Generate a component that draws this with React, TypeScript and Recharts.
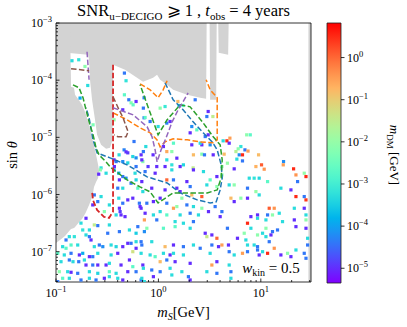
import { Area, ComposedChart, ReferenceArea, Scatter, XAxis, YAxis } from 'recharts'

const SERIF = "'Liberation Serif', 'DejaVu Serif', serif"

// axis limits (log10)
const LOG_MS_MIN = -1
const LOG_MS_MAX = 1.49
const LOG_SIN_MIN = -7.53
const LOG_SIN_MAX = -3
const LOG_MDM_MIN = -5.35
const LOG_MDM_MAX = 0.82

const cbMajor = [-5, -4, -3, -2, -1, 0]

// excluded (gray) region: lower edge of the top band, [log mS, log sin]
const grayTop = [
	[-1.0, -3.503], [-0.687, -3.555], [-0.677, -3.643], [-0.668, -3.993], [-0.648, -4.343],
	[-0.619, -4.693], [-0.599, -4.956], [-0.56, -5.131], [-0.511, -5.201], [-0.472, -5.184],
	[-0.448, -5.044], [-0.443, -3.73], [-0.326, -3.818], [-0.15, -4.028], [-0.052, -3.958],
	[-0.013, -3.905], [0.017, -3.993], [0.085, -4.081], [0.144, -4.168], [0.281, -4.256],
	[0.408, -4.308], [0.466, -4.326], [0.471, -3], [0.5, -3], [0.505, -4.343], [0.564, -4.343],
	[0.569, -3], [0.584, -3], [0.589, -3.52], [0.681, -3.555], [0.686, -3], [1.49, -3],
]
// left bulge: [log mS, low, high]
const grayLeft = [
	[-1.0, -6.848, -3], [-0.961, -6.795, -3], [-0.912, -6.725, -3], [-0.863, -6.62, -3],
	[-0.853, -6.602, -4.116], [-0.824, -6.584, -4.133], [-0.814, -6.567, -4.256],
	[-0.765, -6.462, -4.378], [-0.746, -6.427, -4.431], [-0.717, -6.339, -4.553],
	[-0.707, -6.304, -4.606], [-0.677, -6.182, -4.781], [-0.658, -6.094, -4.921],
	[-0.643, -6.024, -5.044], [-0.629, -5.867, -5.149], [-0.609, -5.779, -5.306],
	[-0.589, -5.709, -5.481], [-0.58, -5.604, -5.586],
]
const grayRight = [
	[1.465, -7.53, -3], [1.49, -7.53, -3],
]

// dashed contours [log mS, log sin]
const contourBlue = [
	[0.065, -4.046], [0.144, -4.343], [0.241, -4.518], [0.339, -4.729], [0.437, -4.921],
	[0.525, -5.079], [0.574, -5.219], [0.613, -5.481], [0.623, -5.709], [0.603, -5.919],
	[0.564, -6.129], [0.505, -6.147], [0.378, -6.094], [0.212, -5.972], [0.085, -5.797],
	[-0.11, -5.691], [-0.306, -5.481], [-0.472, -5.359], [-0.599, -5.271], [-0.638, -5.044],
	[-0.677, -4.658], [-0.707, -4.483],
]
const contourOrangeA = [
	[-0.179, -4.063], [-0.081, -4.168], [-0.003, -4.308], [0.046, -4.168], [0.085, -4.011],
]
const contourOrangeB = [
	[-0.443, -4.571], [-0.306, -4.693], [-0.179, -4.834], [-0.081, -4.921], [-0.013, -5.044],
	[0.017, -5.166], [0.065, -5.079], [0.144, -5.026], [0.281, -5.044], [0.408, -5.079],
	[0.535, -5.096], [0.574, -5.044], [0.574, -4.308], [0.505, -4.168], [0.466, -3.993],
]
const contourGreen = [
	[-0.834, -4.081], [-0.775, -4.133], [-0.736, -4.308], [-0.707, -4.518], [-0.677, -4.729],
	[-0.638, -4.956], [-0.609, -5.184], [-0.58, -5.306], [-0.511, -5.429], [-0.462, -5.534],
	[-0.306, -5.744], [-0.179, -5.867], [-0.081, -5.954], [-0.003, -6.147], [0.085, -6.042],
	[0.144, -5.972], [0.476, -5.972], [0.574, -5.919], [0.613, -5.709], [0.623, -5.394],
	[0.603, -5.131], [0.535, -4.991], [0.437, -4.746], [0.31, -4.466], [0.212, -4.431],
	[0.085, -4.693], [-0.003, -4.956], [-0.091, -4.518], [-0.179, -4.081],
]
const contourRed = [
	[-0.443, -3.73], [-0.443, -6.3], [-0.482, -6.41], [-0.531, -6.39], [-0.599, -6.27],
	[-0.638, -6.1], [-0.648, -5.95],
]
const contourPurpleA = [[-0.697, -3.503], [-0.677, -3.993]]
const contourPurpleB = [
	[-0.443, -4.483], [-0.247, -4.606], [-0.11, -4.816], [-0.062, -4.991], [-0.032, -5.219],
	[-0.013, -5.429], [0.026, -5.219], [0.075, -5.009], [0.134, -4.729], [0.193, -4.518],
	[0.241, -4.378], [0.29, -4.221],
]
const contourBrownA = [[-0.853, -3.8], [-0.677, -3.835]]
const contourBrownB = [
	[-0.443, -4.291], [-0.384, -4.518], [-0.345, -4.658], [-0.296, -4.904], [-0.316, -4.991],
	[-0.394, -4.991], [-0.433, -4.956],
]

// scan points [log mS, log sin, log mDM]
const pointsUpper = [
	[-0.844, -3.66, -3.3], [-0.778, -3.643, -3.2], [-0.717, -3.76, -2.1], [-0.69, -4.093, -3.3],
	[-0.765, -4.313, -3.9], [-0.332, -3.876, -4.4], [-0.316, -4.01, -3.2], [-0.332, -4.256, -2.7],
	[-0.289, -4.343, -4.4], [-0.218, -4.373, -5.0], [-0.267, -4.396, -2.2], [-0.247, -4.431, -2.6],
	[-0.14, -4.308, -4.3], [-0.348, -4.518, -5.0], [-0.638, -4.781, -2.3], [-0.433, -4.693, -2.0],
	[-0.14, -4.658, -4.4], [-0.238, -5.073, -4.4], [-0.335, -5.219, -4.3], [-0.316, -5.254, -5.0],
	[-0.299, -5.271, -4.9], [-0.384, -5.306, -3.3], [-0.25, -5.336, -3.4], [-0.218, -5.359, -4.2],
	[-0.169, -5.306, -5.0], [-0.433, -5.394, -5.0], [-0.413, -5.424, -4.4], [-0.348, -5.424, -4.2],
	[-0.299, -5.447, -3.4], [-0.218, -5.511, -4.4], [-0.152, -5.424, -2.2], [-0.56, -5.534, -3.2],
	[-0.433, -5.569, -4.2], [-0.147, -4.489, -4.4], [0.017, -4.489, -2.1], [0.065, -4.461, -3.1],
	[-0.13, -4.653, -2.7], [-0.081, -4.723, -4.4], [-0.003, -4.811, -3.3], [0.082, -4.751, -4.3],
	[0.114, -4.723, -5.0], [0.19, -4.373, -0.8], [0.359, -4.343, -4.4], [0.202, -4.443, -3.4],
	[0.241, -4.443, -2.8], [0.486, -4.548, -5.0], [0.473, -4.636, -4.4], [0.532, -4.636, -1.5],
	[0.326, -4.811, -4.2], [0.375, -4.869, -2.7], [0.31, -4.921, -5.0], [0.486, -4.956, -5.0],
	[0.457, -4.986, -4.4], [0.424, -5.131, -5.0], [-0.123, -5.161, -3.3], [0.049, -5.161, -5.0],
	[0.147, -5.102, -2.7], [0.326, -5.131, -5.0], [0.408, -5.102, -3.3], [0.505, -5.131, -4.2],
	[0.632, -5.061, -3.3], [0.669, -5.061, 0.5], [-0.147, -5.249, -4.4], [-0.052, -5.306, -5.0],
	[0.082, -5.249, -0.6], [0.131, -5.249, -2.1], [0.18, -5.364, -5.0], [0.342, -5.306, -0.8],
	[0.424, -5.294, -2.2], [0.45, -5.306, -4.4], [0.535, -5.306, -5.0], [-0.162, -5.394, -5.0],
	[-0.101, -5.511, -4.9], [-0.016, -5.511, -5.0], [0.082, -5.394, -3.3], [0.131, -5.481, -3.2],
	[0.244, -5.481, -3.4], [0.339, -5.534, -1.5], [0.62, -5.511, -2.1], [0.674, -5.452, -2.0],
	[0.862, -4.956, -2.1], [0.897, -4.956, -2.7], [0.698, -5.014, -0.5], [0.691, -5.102, -5.0],
	[0.805, -5.161, -3.2], [0.779, -5.201, -2.1], [0.757, -5.249, -1.6], [0.845, -5.219, -4.4],
	[0.875, -5.24, -0.5], [0.789, -5.306, -4.2], [0.821, -5.306, 0.5], [0.642, -5.294, -0.8],
	[0.978, -5.306, -0.8], [0.766, -5.381, -3.3], [0.821, -5.412, -4.4], [1.007, -5.481, 0.1],
	[0.952, -5.511, -0.7], [1.222, -5.424, -4.2], [1.219, -5.481, -0.5], [1.32, -5.551, 0.5],
	[0.74, -5.551, -5.0], [1.033, -5.557, -0.4],
]
const pointsLowLeft = [
	[-0.567, -5.569, -2.1], [-0.583, -5.644, -5.0], [-0.511, -5.627, -3.3], [-0.43, -5.511, -5.0],
	[-0.387, -5.627, -3.9], [-0.348, -5.686, -4.4], [-0.381, -5.744, -5.0], [-0.397, -5.889, -4.4],
	[-0.316, -5.714, -4.2], [-0.228, -5.627, -3.3], [-0.218, -5.744, -3.4], [-0.267, -5.802, -4.4],
	[-0.348, -5.889, -3.3], [-0.201, -5.889, -2.7], [-0.152, -5.949, -3.3], [-0.626, -6.007, -4.4],
	[-0.56, -6.036, -3.3], [-0.641, -6.182, -5.0], [-0.592, -6.124, -4.4], [-0.479, -6.182, -3.3],
	[-0.528, -6.299, -2.2], [-0.387, -6.064, -3.3], [-0.299, -6.094, -5.0], [-0.25, -6.064, -5.0],
	[-0.348, -6.152, -4.4], [-0.186, -6.152, -4.4], [-0.381, -6.24, -5.0], [-0.326, -6.387, -5.0],
	[-0.365, -6.357, -5.0], [-0.374, -6.299, -4.9], [-0.413, -6.357, -3.3], [-0.169, -6.24, -5.0],
	[-0.137, -6.444, -0.5], [-0.756, -6.5, -3.3], [-0.707, -6.415, -5.0], [-0.626, -6.532, -1.5],
	[-0.592, -6.544, -4.4], [-0.674, -6.62, -3.3], [-0.739, -6.62, -3.2], [-0.479, -6.532, -3.3],
	[-0.381, -6.649, -4.4], [-0.495, -6.677, -4.4], [-0.283, -6.62, -3.3], [-0.201, -6.562, -4.4],
	[-0.218, -6.677, -3.5], [-0.137, -6.649, -4.2], [-0.87, -6.737, -3.3], [-0.821, -6.737, -3.2],
	[-0.902, -6.795, -4.4], [-0.853, -6.883, -2.8], [-0.707, -6.707, -3.3], [-0.674, -6.737, -4.4],
	[-0.658, -6.795, -5.0], [-0.935, -6.912, -3.3], [-0.902, -6.94, -2.7], [-0.788, -6.883, -3.3],
	[-0.626, -6.912, -3.3], [-0.577, -6.883, -4.4], [-0.543, -6.912, -4.2], [-0.462, -6.883, -3.3],
	[-0.413, -6.912, -3.4], [-0.348, -6.912, -5.0], [-0.299, -6.853, -5.0], [-0.267, -6.853, -4.4],
	[-0.218, -6.825, -3.3], [-0.169, -6.825, -4.4], [-0.983, -7.028, -2.7], [-0.919, -7.057, -3.3],
	[-0.853, -7.028, -4.4], [-0.772, -7.057, -5.0], [-0.739, -7.028, -3.9], [-0.674, -7.087, -5.0],
	[-0.641, -7.087, -4.4], [-0.592, -7.028, -3.3], [-0.462, -7.057, -3.3], [-0.397, -7.028, -5.0],
	[-0.25, -7.0, -1.3], [-0.218, -6.94, -5.0], [-0.283, -7.145, -5.0], [-0.169, -7.028, -3.3],
	[-0.951, -7.175, -3.3], [-0.87, -7.145, -4.4], [-0.834, -7.175, -3.3], [-0.778, -7.175, -4.4],
	[-0.723, -7.145, -3.3], [-0.707, -7.233, -5.0], [-0.641, -7.233, -4.4], [-0.592, -7.233, -5.0],
	[-0.511, -7.233, -5.0], [-0.479, -7.203, -3.3], [-0.365, -7.233, -5.0], [-0.25, -7.262, -2.7],
	[-0.152, -7.233, -5.0], [-0.968, -7.35, -2.1], [-0.886, -7.35, -3.3], [-0.853, -7.36, -5.0],
	[-0.788, -7.378, -4.4], [-0.674, -7.35, -3.3], [-0.592, -7.378, -3.4], [-0.479, -7.35, -2.7],
	[-0.413, -7.378, -3.3], [-0.299, -7.35, -5.0], [-0.218, -7.35, -4.4], [-0.935, -7.465, -2.7],
	[-0.87, -7.465, -3.3], [-0.756, -7.495, -4.4], [-0.674, -7.465, -3.3], [-0.609, -7.495, -4.4],
	[-0.528, -7.465, -5.0], [-0.479, -7.437, -3.3], [-0.397, -7.465, -3.3], [-0.348, -7.495, -5.0],
	[-0.169, -7.495, -4.4], [-0.137, -7.524, -3.3], [-0.983, -7.524, -4.4],
]
const pointsLowMid = [
	[-0.13, -5.599, -4.4], [0.065, -5.511, -5.0], [0.131, -5.569, -3.3], [0.212, -5.511, -5.0],
	[0.342, -5.569, -5.0], [0.44, -5.599, -3.3], [0.505, -5.744, -2.7], [0.571, -5.686, -5.0],
	[0.62, -5.657, -2.0], [-0.162, -5.774, -5.0], [-0.032, -5.627, -5.0], [0.082, -5.744, 0.0],
	[0.147, -5.744, -4.4], [0.278, -5.774, -5.0], [0.31, -5.861, -4.4], [0.18, -5.889, -5.0],
	[0.212, -5.949, -5.0], [0.065, -5.919, -5.0], [-0.065, -5.889, -5.0], [0.473, -5.832, -3.3],
	[0.571, -5.861, -2.1], [0.424, -6.036, 0.1], [0.326, -6.007, -0.8], [0.229, -6.064, -2.1],
	[0.017, -6.064, -5.0], [-0.049, -6.124, -5.0], [-0.113, -6.152, -4.4], [-0.179, -6.211, -5.0],
	[0.082, -6.152, -4.4], [0.147, -6.24, -0.5], [0.18, -6.211, -2.0], [0.278, -6.182, -4.4],
	[0.342, -6.211, -3.3], [0.424, -6.24, -2.1], [0.489, -6.299, -5.0], [0.554, -6.211, -4.4],
	[0.62, -6.299, -4.4], [-0.13, -6.327, -5.0], [-0.049, -6.357, -3.3], [0.017, -6.299, -3.3],
	[0.082, -6.357, -2.7], [0.212, -6.357, -3.3], [0.31, -6.327, -4.4], [0.391, -6.357, -3.3],
	[0.603, -6.387, -5.0], [-0.016, -6.444, -4.4], [0.163, -6.474, -3.3], [0.244, -6.502, -3.3],
	[0.342, -6.474, -4.4], [0.163, -6.562, -2.7], [0.31, -6.59, -3.3], [-0.113, -6.59, -2.2],
	[0.049, -6.59, -2.7], [0.457, -6.677, -5.0], [0.522, -6.707, -5.0], [0.473, -6.737, -1.4],
	[0.571, -6.765, 0.0], [0.62, -6.883, -0.5], [0.587, -6.912, -5.0], [0.522, -6.883, -4.4],
	[0.684, -6.883, -5.0], [0.065, -6.912, -0.8], [-0.162, -6.883, -4.4], [-0.065, -6.825, -3.3],
	[0.147, -6.883, -5.0], [0.244, -6.912, -4.4], [0.342, -6.883, -3.3], [0.408, -6.94, -4.4],
	[-0.081, -7.057, -3.3], [-0.032, -7.087, -2.7], [0.049, -7.028, -3.3], [0.114, -7.057, -5.0],
	[0.147, -7.028, -3.3], [0.244, -7.057, -3.3], [0.505, -7.028, -3.3], [0.017, -7.175, -0.8],
	[0.082, -7.145, -4.4], [0.163, -7.175, -5.0], [0.31, -7.203, -5.0], [0.522, -7.233, -0.5],
	[0.571, -7.175, -5.0], [-0.147, -7.29, -3.3], [-0.065, -7.32, -4.4], [0.017, -7.35, -4.4],
	[0.114, -7.29, -3.3], [0.229, -7.35, -3.3], [0.473, -7.35, -3.3], [0.571, -7.378, -4.4],
	[-0.049, -7.437, -5.0], [0.131, -7.407, -3.3], [0.293, -7.437, -4.4], [0.31, -7.495, -5.0],
	[-0.162, -7.465, -3.3],
]
const pointsLowRight = [
	[1.343, -5.657, -0.4], [1.424, -5.627, -2.0], [1.441, -5.686, 0.5], [0.887, -5.714, -3.3],
	[0.935, -5.714, -3.2], [0.984, -5.714, -3.4], [1.066, -5.774, -2.7], [1.359, -5.774, -4.4],
	[0.691, -5.832, -3.3], [0.74, -5.832, -2.1], [0.87, -5.889, -4.4], [0.952, -5.949, -2.0],
	[0.984, -6.007, -3.3], [0.805, -6.064, -2.1], [0.708, -6.064, -0.8], [0.74, -6.124, -5.0],
	[0.87, -6.064, -5.0], [1.196, -5.889, -3.3], [1.294, -5.919, -5.0], [1.343, -6.036, 0.5],
	[1.424, -6.036, -4.4], [1.441, -6.094, 0.4], [1.082, -6.24, 0.1], [1.131, -6.24, -0.4],
	[1.18, -6.327, -3.3], [1.114, -6.357, -2.1], [1.066, -6.357, -4.4], [1.424, -6.24, -5.0],
	[1.441, -6.357, -3.3], [1.327, -6.24, -3.3], [0.968, -6.357, -5.0], [0.903, -6.387, -5.0],
	[0.968, -6.415, -3.3], [0.87, -6.502, 0.5], [1.05, -6.444, -3.3], [1.212, -6.474, -3.3],
	[1.327, -6.444, -5.0], [1.441, -6.444, -2.1], [0.674, -6.59, -4.4], [0.838, -6.677, -2.1],
	[0.903, -6.59, -3.3], [1.05, -6.59, -2.1], [1.114, -6.649, -4.4], [1.163, -6.62, -4.4],
	[1.343, -6.562, -5.0], [1.441, -6.59, -5.0], [0.772, -6.765, -5.0], [0.854, -6.795, -3.3],
	[0.968, -6.707, -2.1], [1.017, -6.677, -3.3], [1.05, -6.737, -3.3], [1.099, -6.707, -5.0],
	[0.87, -6.883, -3.3], [0.935, -6.883, -3.3], [0.968, -6.912, -4.4], [1.082, -6.825, -4.4],
	[1.457, -6.765, -3.3], [1.457, -6.883, -4.4], [0.691, -7.0, -4.4], [0.74, -7.057, -3.3],
	[0.821, -7.028, -0.5], [0.87, -7.0, -4.4], [0.968, -6.97, -4.4], [1.017, -7.0, -3.3],
	[1.066, -7.028, 0.5], [1.131, -6.94, -0.4], [1.196, -7.057, -5.0], [1.261, -7.028, -2.1],
	[1.343, -6.97, -3.3], [1.424, -7.028, -4.4], [0.691, -7.233, -3.3], [0.708, -7.35, -4.4],
	[0.984, -7.057, -5.0], [1.294, -7.087, -5.0], [1.441, -7.115, -4.4], [0.708, -7.465, -3.3],
]

function rainbow(lm: number) {
	const t = Math.min(1, Math.max(0, (lm - LOG_MDM_MIN) / (LOG_MDM_MAX - LOG_MDM_MIN)))
	const r = Math.min(1, Math.abs(2 * t - 0.5))
	const g = Math.sin(Math.PI * t)
	const b = Math.cos((Math.PI * t) / 2)
	return `rgb(${Math.round(r * 255)},${Math.round(g * 255)},${Math.round(b * 255)})`
}

// 1..9 x 10^d inside [lo, hi] (log10 limits)
function logTicks(lo: number, hi: number) {
	const out: number[] = []
	for (let d = Math.floor(lo); d <= Math.floor(hi); d++) {
		for (let k = 1; k <= 9; k++) {
			const lv = Math.log10(k) + d
			if (lv >= lo - 1e-9 && lv <= hi + 1e-9) out.push(k * 10 ** d)
		}
	}
	return out
}

const xTicks = logTicks(LOG_MS_MIN, LOG_MS_MAX)
const yTicks = logTicks(LOG_SIN_MIN, LOG_SIN_MAX)
const cbTicks = cbMajor.map((e) => 10 ** e)

const toPoint = ([lx, ly, lm]: number[]) => ({ x: 10 ** lx, y: 10 ** ly, m: lm })
const toLine = ([lx, ly]: number[]) => ({ x: 10 ** lx, y: 10 ** ly })

const pointData = [...pointsUpper, ...pointsLowLeft, ...pointsLowMid, ...pointsLowRight].map(toPoint)
const topData = grayTop.map(([lx, ly]) => ({ x: 10 ** lx, v: [10 ** ly, 10 ** LOG_SIN_MAX] }))
const leftData = grayLeft.map(([lx, lo, hi]) => ({ x: 10 ** lx, v: [10 ** lo, 10 ** hi] }))
const rightData = grayRight.map(([lx, lo, hi]) => ({ x: 10 ** lx, v: [10 ** lo, 10 ** hi] }))

const contours = [
	{ key: 'blue', color: '#1f77b4', pts: contourBlue },
	{ key: 'orangeA', color: '#ff7f0e', pts: contourOrangeA },
	{ key: 'orangeB', color: '#ff7f0e', pts: contourOrangeB },
	{ key: 'green', color: '#2ca02c', pts: contourGreen },
	{ key: 'red', color: '#d62728', pts: contourRed },
	{ key: 'purpleA', color: '#9467bd', pts: contourPurpleA },
	{ key: 'purpleB', color: '#9467bd', pts: contourPurpleB },
	{ key: 'brownA', color: '#8c564b', pts: contourBrownA },
	{ key: 'brownB', color: '#8c564b', pts: contourBrownB },
]

function isMajor(v: number) {
	const lv = Math.log10(v)
	return Math.abs(lv - Math.round(lv)) < 1e-6
}

function Pow10({ x, y, exp, anchor }: { x: number; y: number; exp: number; anchor: 'start' | 'middle' | 'end' }) {
	return (
		<text x={x} y={y} textAnchor={anchor} fontFamily={SERIF} fontSize={12} fill="#000">
			10
			<tspan dy={-5} fontSize={8.5}>
				{exp < 0 ? `−${-exp}` : `${exp}`}
			</tspan>
		</text>
	)
}

function XTick(props: any) {
	const { x, y, payload } = props
	const major = isMajor(payload.value)
	return (
		<g>
			<line x1={x} x2={x} y1={y} y2={y - (major ? 3.5 : 2)} stroke="#000" strokeWidth={0.8} />
			{major && <Pow10 x={x} y={y + 15} exp={Math.round(Math.log10(payload.value))} anchor="middle" />}
		</g>
	)
}

function YTick(props: any) {
	const { x, y, payload } = props
	const major = isMajor(payload.value)
	return (
		<g>
			<line x1={x} x2={x + (major ? 3.5 : 2)} y1={y} y2={y} stroke="#000" strokeWidth={0.8} />
			{major && <Pow10 x={x - 4} y={y + 4} exp={Math.round(Math.log10(payload.value))} anchor="end" />}
		</g>
	)
}

function CbTick(props: any) {
	const { x, y, payload } = props
	return (
		<g>
			<line x1={x} x2={x + 3.5} y1={y} y2={y} stroke="#000" strokeWidth={0.8} />
			<Pow10 x={x + 6} y={y + 4} exp={Math.round(Math.log10(payload.value))} anchor="start" />
		</g>
	)
}

const gradStops = Array.from({ length: 21 }, (_, i) => i / 20)

export default function App() {
	return (
		<div style={{ position: 'absolute', left: 0, top: 0, width: 407, height: 327, background: '#fff' }}>
			<div style={{ position: 'absolute', left: 0, top: 0 }}>
				<ComposedChart width={407} height={327} margin={{ top: 23, right: 96, bottom: 0, left: 0 }}>
					<XAxis
						dataKey="x"
						type="number"
						scale="log"
						domain={[10 ** LOG_MS_MIN, 10 ** LOG_MS_MAX]}
						allowDataOverflow
						ticks={xTicks}
						interval={0}
						height={45}
						tickSize={0}
						tickMargin={0}
						tickLine={false}
						axisLine={false}
						tick={(p: any) => <XTick {...p} />}
					/>
					<YAxis
						type="number"
						scale="log"
						domain={[10 ** LOG_SIN_MIN, 10 ** LOG_SIN_MAX]}
						allowDataOverflow
						ticks={yTicks}
						interval={0}
						width={56}
						tickSize={0}
						tickMargin={0}
						tickLine={false}
						axisLine={false}
						tick={(p: any) => <YTick {...p} />}
					/>
					<Area data={topData} dataKey="v" type="linear" stroke="none" fill="#d3d3d3" fillOpacity={1} dot={false} activeDot={false} isAnimationActive={false} />
					<Area data={leftData} dataKey="v" type="linear" stroke="none" fill="#d3d3d3" fillOpacity={1} dot={false} activeDot={false} isAnimationActive={false} />
					<Area data={rightData} dataKey="v" type="linear" stroke="none" fill="#d3d3d3" fillOpacity={1} dot={false} activeDot={false} isAnimationActive={false} />
					<Scatter
						data={pointData}
						dataKey="y"
						isAnimationActive={false}
						shape={(p: any) => (
							<rect x={p.cx - 1.6} y={p.cy - 1.6} width={3.2} height={3.2} fill={rainbow(p.payload.m)} />
						)}
					/>
					{contours.map((c) => (
						<Scatter
							key={c.key}
							data={c.pts.map(toLine)}
							dataKey="y"
							fill={c.color}
							isAnimationActive={false}
							line={{ stroke: c.color, strokeWidth: c.key === 'red' ? 1.8 : 1.5, strokeDasharray: '5.5 2.4' }}
							shape={() => <g />}
						/>
					))}
					<ReferenceArea
						x1={10 ** LOG_MS_MIN}
						x2={10 ** LOG_MS_MAX}
						y1={10 ** LOG_SIN_MIN}
						y2={10 ** LOG_SIN_MAX}
						fill="none"
						stroke="#000"
						strokeWidth={0.8}
						ifOverflow="visible"
					/>
				</ComposedChart>
			</div>
			<div style={{ position: 'absolute', left: 300, top: 0 }}>
				<ComposedChart
					width={107}
					height={327}
					margin={{ top: 23, right: 0, bottom: 44, left: 27 }}
					data={[{ x: 0, y: 10 ** LOG_MDM_MIN }, { x: 1, y: 10 ** LOG_MDM_MAX }]}
				>
					<defs>
						<linearGradient id="cbGrad" x1="0" y1="1" x2="0" y2="0">
							{gradStops.map((t) => (
								<stop key={t} offset={t} stopColor={rainbow(LOG_MDM_MIN + t * (LOG_MDM_MAX - LOG_MDM_MIN))} />
							))}
						</linearGradient>
					</defs>
					<XAxis dataKey="x" type="number" domain={[0, 1]} hide />
					<YAxis
						orientation="right"
						type="number"
						scale="log"
						domain={[10 ** LOG_MDM_MIN, 10 ** LOG_MDM_MAX]}
						allowDataOverflow
						ticks={cbTicks}
						interval={0}
						width={66}
						tickSize={0}
						tickMargin={0}
						tickLine={false}
						axisLine={false}
						tick={(p: any) => <CbTick {...p} />}
					/>
					<ReferenceArea
						x1={0}
						x2={1}
						y1={10 ** LOG_MDM_MIN}
						y2={10 ** LOG_MDM_MAX}
						fill="url(#cbGrad)"
						fillOpacity={1}
						stroke="#222"
						strokeWidth={0.8}
						ifOverflow="visible"
					/>
				</ComposedChart>
			</div>
			<svg
				width={407}
				height={327}
				style={{ position: 'absolute', left: 0, top: 0, pointerEvents: 'none' }}
				fontFamily={SERIF}
			>
				<text x={183.5} y={16} textAnchor="middle" fontSize={16.5} fill="#000">
					SNR
					<tspan dy={3.5} fontSize={11}>
						u−DECIGO
					</tspan>
					<tspan dy={-3.5}> ⩾ 1 , </tspan>
					<tspan fontStyle="italic">t</tspan>
					<tspan dy={3.5} fontSize={11}>
						obs
					</tspan>
					<tspan dy={-3.5}> = 4 years</tspan>
				</text>
				<text x={183.5} y={317} textAnchor="middle" fontSize={14.5} fill="#000">
					<tspan fontStyle="italic">m</tspan>
					<tspan dy={3} fontSize={10} fontStyle="italic">
						S
					</tspan>
					<tspan dy={-3}>[GeV]</tspan>
				</text>
				<text transform="translate(17,155) rotate(-90)" textAnchor="middle" fontSize={14.5} fill="#000">
					sin <tspan fontStyle="italic">θ</tspan>
				</text>
				<text transform="translate(390,155) rotate(90)" textAnchor="middle" fontSize={13} fill="#000">
					<tspan fontStyle="italic">m</tspan>
					<tspan dy={3} fontSize={9}>
						DM
					</tspan>
					<tspan dy={-3}> [GeV]</tspan>
				</text>
				<text x={271} y={273} textAnchor="middle" fontSize={15} fill="#000">
					<tspan fontStyle="italic">w</tspan>
					<tspan dy={3} fontSize={10}>
						kin
					</tspan>
					<tspan dy={-3}> = 0.5</tspan>
				</text>
			</svg>
		</div>
	)
}
